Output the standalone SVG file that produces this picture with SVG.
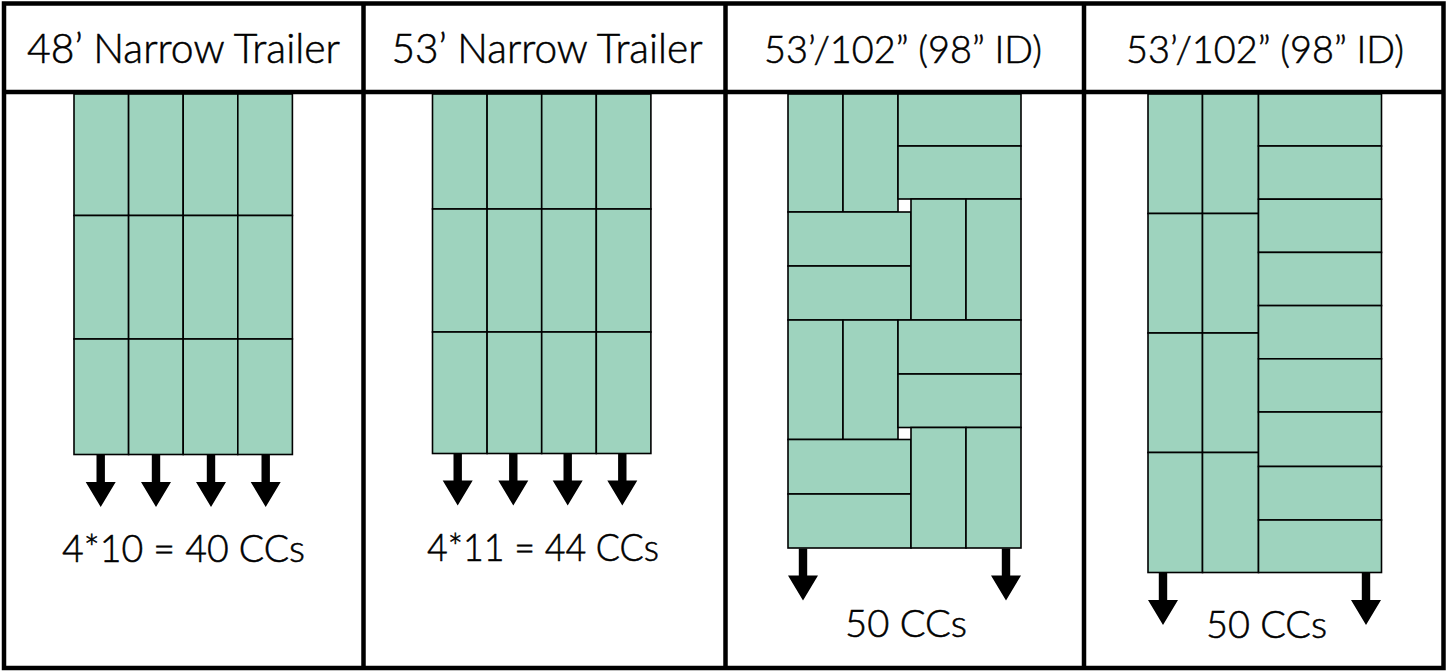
<svg xmlns="http://www.w3.org/2000/svg" xmlns:xlink="http://www.w3.org/1999/xlink" width="1448" height="671" viewBox="0 0 1448 671">
<style>
.box{fill:#9ED3BE;stroke:#000;stroke-width:1.6}
.frame{fill:none;stroke:#000;stroke-width:4.5}
.hd,.hd2,.lb{font-family:"Lato","Open Sans",sans-serif;font-weight:300;fill:#000;stroke:#000;stroke-width:0.55;text-anchor:middle}
.hd{font-size:42px}
.hd2{font-size:38px}
.lb{font-size:38px}
.arr{fill:#000}
</style>
<defs>
<path id="arrow" class="arr" d="M-4.2 0 V27 H-15 L0 52 L15 27 H4.2 V0 Z"/>
</defs>
<rect x="0" y="0" width="1448" height="671" fill="#fff"/>

<g id="table">
<rect class="frame" x="4" y="3.5" width="1439.5" height="664.5"/>
<line class="frame" x1="4" y1="92" x2="1443.5" y2="92"/>
<line class="frame" x1="363.5" y1="3.5" x2="363.5" y2="668"/>
<line class="frame" x1="725.5" y1="3.5" x2="725.5" y2="668"/>
<line class="frame" x1="1084" y1="3.5" x2="1084" y2="668"/>
</g>

<g id="headers">
<text class="hd" x="183.5" y="62.5" textLength="313" lengthAdjust="spacingAndGlyphs">48’ Narrow Trailer</text>
<text class="hd" x="547" y="62.5" textLength="311" lengthAdjust="spacingAndGlyphs">53’ Narrow Trailer</text>
<text class="hd2" x="903" y="62.5" textLength="278" lengthAdjust="spacingAndGlyphs">53’/102” (98” ID)</text>
<text class="hd2" x="1265" y="62.5" textLength="278" lengthAdjust="spacingAndGlyphs">53’/102” (98” ID)</text>
</g>

<g id="panel1">
<rect class="box" x="74" y="94" width="54.6" height="121.5"/>
<rect class="box" x="128.6" y="94" width="54.6" height="121.5"/>
<rect class="box" x="183.2" y="94" width="54.6" height="121.5"/>
<rect class="box" x="237.8" y="94" width="54.6" height="121.5"/>
<rect class="box" x="74" y="215.5" width="54.6" height="123.5"/>
<rect class="box" x="128.6" y="215.5" width="54.6" height="123.5"/>
<rect class="box" x="183.2" y="215.5" width="54.6" height="123.5"/>
<rect class="box" x="237.8" y="215.5" width="54.6" height="123.5"/>
<rect class="box" x="74" y="339" width="54.6" height="115.5"/>
<rect class="box" x="128.6" y="339" width="54.6" height="115.5"/>
<rect class="box" x="183.2" y="339" width="54.6" height="115.5"/>
<rect class="box" x="237.8" y="339" width="54.6" height="115.5"/>
<text class="lb" x="183.5" y="561.5" textLength="243" lengthAdjust="spacingAndGlyphs">4*10 = 40 CCs</text>
</g>

<g id="panel2">
<rect class="box" x="432.5" y="94" width="54.6" height="115"/>
<rect class="box" x="487.1" y="94" width="54.6" height="115"/>
<rect class="box" x="541.7" y="94" width="54.6" height="115"/>
<rect class="box" x="596.3" y="94" width="54.6" height="115"/>
<rect class="box" x="432.5" y="209" width="54.6" height="123"/>
<rect class="box" x="487.1" y="209" width="54.6" height="123"/>
<rect class="box" x="541.7" y="209" width="54.6" height="123"/>
<rect class="box" x="596.3" y="209" width="54.6" height="123"/>
<rect class="box" x="432.5" y="332" width="54.6" height="121.5"/>
<rect class="box" x="487.1" y="332" width="54.6" height="121.5"/>
<rect class="box" x="541.7" y="332" width="54.6" height="121.5"/>
<rect class="box" x="596.3" y="332" width="54.6" height="121.5"/>
<text class="lb" x="543" y="560.5" textLength="232" lengthAdjust="spacingAndGlyphs">4*11 = 44 CCs</text>
</g>

<g id="panel3">
<rect class="box" x="788" y="94" width="55" height="118"/>
<rect class="box" x="843" y="94" width="55" height="118"/>
<rect class="box" x="898" y="94" width="123" height="52"/>
<rect class="box" x="898" y="146" width="123" height="53"/>
<rect class="box" x="788" y="212" width="123" height="54"/>
<rect class="box" x="788" y="266" width="123" height="54"/>
<rect class="box" x="911" y="199" width="55" height="121"/>
<rect class="box" x="966" y="199" width="55" height="121"/>
<rect class="box" x="788" y="320" width="55" height="119.5"/>
<rect class="box" x="843" y="320" width="55" height="119.5"/>
<rect class="box" x="898" y="320" width="123" height="54"/>
<rect class="box" x="898" y="374" width="123" height="53.5"/>
<rect class="box" x="788" y="439.5" width="123" height="54.5"/>
<rect class="box" x="788" y="494" width="123" height="54"/>
<rect class="box" x="911" y="427.5" width="55" height="120.5"/>
<rect class="box" x="966" y="427.5" width="55" height="120.5"/>
<text class="lb" x="906" y="637" textLength="122" lengthAdjust="spacingAndGlyphs">50 CCs</text>
</g>

<g id="panel4">
<rect class="box" x="1148" y="94" width="54.5" height="119.5"/>
<rect class="box" x="1202.5" y="94" width="56" height="119.5"/>
<rect class="box" x="1148" y="213.5" width="54.5" height="119.5"/>
<rect class="box" x="1202.5" y="213.5" width="56" height="119.5"/>
<rect class="box" x="1148" y="333" width="54.5" height="119.5"/>
<rect class="box" x="1202.5" y="333" width="56" height="119.5"/>
<rect class="box" x="1148" y="452.5" width="54.5" height="120"/>
<rect class="box" x="1202.5" y="452.5" width="56" height="120"/>
<rect class="box" x="1258.5" y="94" width="123" height="52"/>
<rect class="box" x="1258.5" y="146" width="123" height="53.2"/>
<rect class="box" x="1258.5" y="199.2" width="123" height="53.2"/>
<rect class="box" x="1258.5" y="252.4" width="123" height="53.2"/>
<rect class="box" x="1258.5" y="305.6" width="123" height="53.2"/>
<rect class="box" x="1258.5" y="358.8" width="123" height="53.2"/>
<rect class="box" x="1258.5" y="412" width="123" height="54.5"/>
<rect class="box" x="1258.5" y="466.5" width="123" height="53.5"/>
<rect class="box" x="1258.5" y="520" width="123" height="52.5"/>
<text class="lb" x="1266.5" y="638" textLength="121" lengthAdjust="spacingAndGlyphs">50 CCs</text>
</g>

<g id="connectors">
<use xlink:href="#arrow" x="100.7" y="455"/>
<use xlink:href="#arrow" x="156" y="455"/>
<use xlink:href="#arrow" x="211" y="455"/>
<use xlink:href="#arrow" x="265.7" y="455"/>
<use xlink:href="#arrow" x="457.7" y="453.5"/>
<use xlink:href="#arrow" x="513.3" y="453.5"/>
<use xlink:href="#arrow" x="567.7" y="453.5"/>
<use xlink:href="#arrow" x="622.3" y="453.5"/>
<use xlink:href="#arrow" x="803" y="548.5"/>
<use xlink:href="#arrow" x="1006" y="548.5"/>
<use xlink:href="#arrow" x="1163" y="573"/>
<use xlink:href="#arrow" x="1366" y="573"/>
</g>
</svg>
